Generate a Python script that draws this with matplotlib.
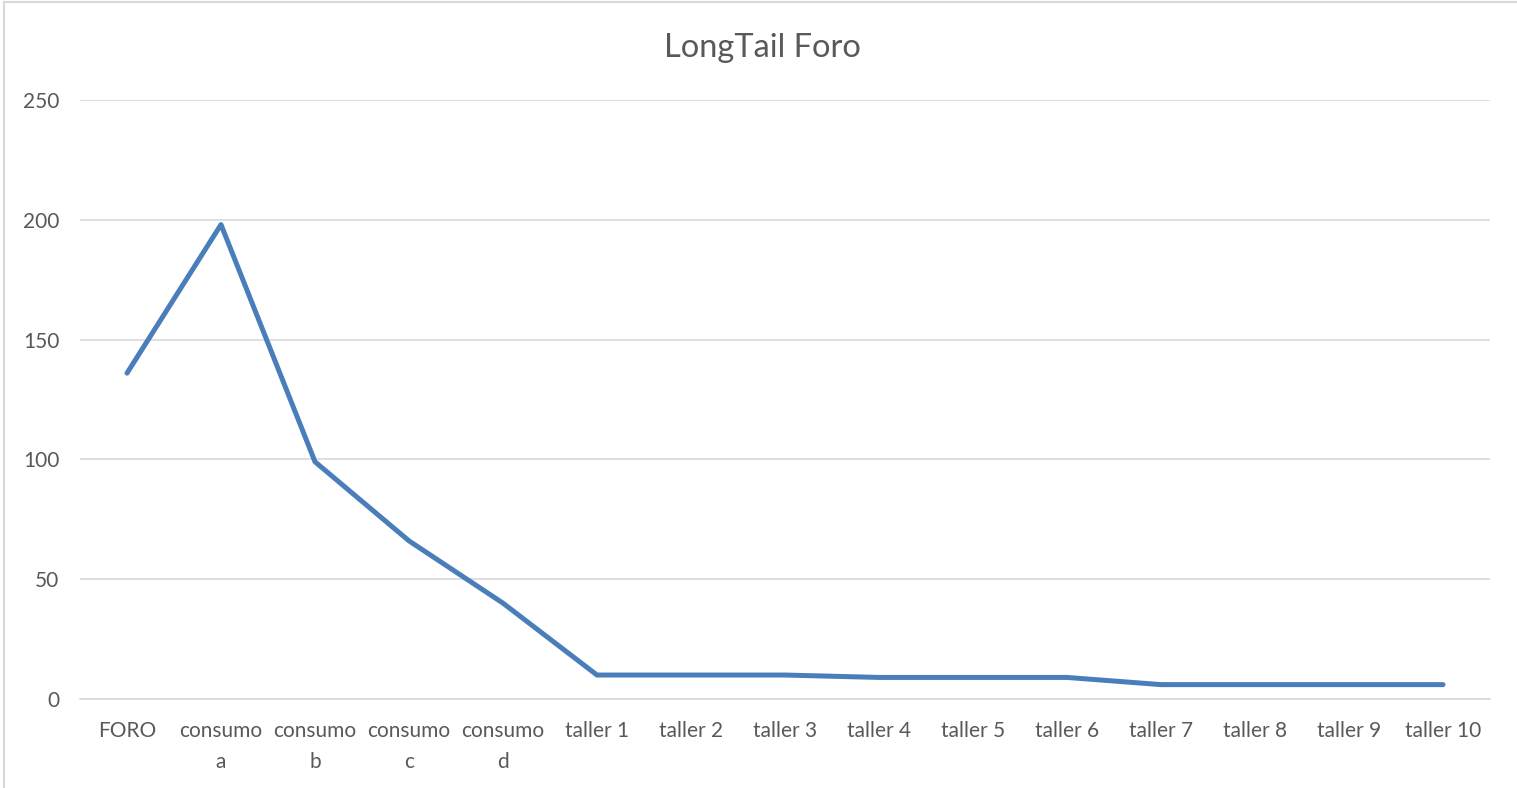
import numpy as np
import matplotlib.pyplot as plt
from matplotlib.lines import Line2D

# categories and counts for the forum long tail
categories = ['FORO', 'consumo\na', 'consumo\nb', 'consumo\nc', 'consumo\nd',
              'taller 1', 'taller 2', 'taller 3', 'taller 4', 'taller 5',
              'taller 6', 'taller 7', 'taller 8', 'taller 9', 'taller 10']
values = [136, 198, 99, 66, 40, 10, 10, 10, 9, 9, 9, 6, 6, 6, 6]
yticks = [0, 50, 100, 150, 200, 250]

plt.rcParams['font.family'] = ['Lato', 'DejaVu Sans']

W, H = 1517, 788
fig = plt.figure(figsize=(W / 100, H / 100), dpi=100)
ax = fig.add_axes([80 / W, 1 - 699 / H, (1490 - 80) / W, (699 - 100) / H])

x = np.arange(len(categories))
ax.plot(x, values, color='#4A7EBB', linewidth=3.6, solid_capstyle='round',
        solid_joinstyle='round', zorder=3)

ax.set_xlim(-0.5, len(categories) - 0.5)
ax.set_ylim(0, 250)
ax.set_yticks(yticks)
ax.set_xticks(x)
ax.set_xticklabels(categories, linespacing=1.65, va='top')

ax.grid(axis='y', color='#D9D9D9', linewidth=1.2)
ax.set_axisbelow(True)
for side in ['top', 'right', 'left']:
    ax.spines[side].set_visible(False)
ax.spines['bottom'].set_color('#D9D9D9')
ax.spines['bottom'].set_linewidth(1.2)
ax.tick_params(axis='both', length=0, labelsize=15, colors='#595959')
ax.tick_params(axis='y', pad=15)
ax.tick_params(axis='x', pad=16)

fig.text(762 / W, 1 - 48 / H, 'LongTail Foro', ha='center', va='center',
         fontsize=23.5, color='#595959')

# chart frame: only the left and top edges show
frame = dict(transform=fig.transFigure, color='#D9D9D9', linewidth=1.5)
fig.add_artist(Line2D([4 / W, 4 / W], [0, 1 - 2 / H], **frame))
fig.add_artist(Line2D([4 / W, 1], [1 - 2 / H, 1 - 2 / H], **frame))

fig.savefig('out.png', dpi=100, facecolor='white')
